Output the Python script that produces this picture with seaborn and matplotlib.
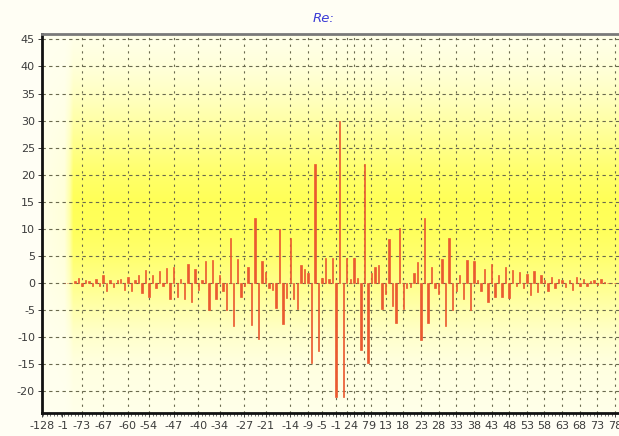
import numpy as np
import pandas as pd
import matplotlib
matplotlib.use("Agg")
import matplotlib.pyplot as plt
from matplotlib.ticker import MultipleLocator
import seaborn as sns

# Real part of the spectrum, bins -78 .. -1
re_neg = [
    0.0, 0.0, 0.0, 0.3, 1.0, -0.5, 0.6, 0.3, -0.6, 0.8,
    -0.5, 1.5, -1.5, 0.6, -0.8, 0.5, 0.8, -1.2, 1.2, -1.5,
    0.5, 1.5, -1.8, 2.5, -2.5, 1.5, -1.0, 2.2, -0.5, 2.8,
    -3.0, 3.0, -2.6, 0.8, -3.0, 3.6, -3.5, 2.6, -1.2, 0.6,
    4.0, -5.0, 4.2, -3.0, 1.5, -1.5, -5.0, 8.3, -8.0, 4.5,
    -2.5, -0.6, 3.0, -7.8, 12.0, -10.4, 4.0, 2.0, -1.0, -1.2,
    -4.6, 10.0, -7.5, -2.8, 8.3, -3.0, -4.8, 3.3, 2.6, 1.8,
    -14.8, 22.0, -12.6, 1.0, 4.6, 0.8, 4.6, -21.0,
]
# Real part of the spectrum, bins 0 .. 78
re_pos = [
    30.0, -21.0, 4.6, 0.8, 4.6, 1.0, -12.4, 22.0, -14.8, 1.8,
    3.0, 3.3, -4.7, -2.0, 8.2, -4.2, -7.4, 10.2, -4.7, -1.0,
    -0.8, 1.8, 3.9, -10.6, 12.0, -7.4, 3.0, -1.0, -2.0, 4.4,
    -8.0, 8.3, -5.0, -1.5, 1.5, -3.0, 4.2, -5.0, 4.0, 0.6,
    -1.5, 2.6, -3.5, 3.5, -2.6, 1.4, -2.5, 3.0, -2.8, 2.5,
    -0.6, 2.0, -1.0, 1.6, -2.2, 2.2, -1.6, 1.4, 0.5, -1.4,
    1.2, -1.0, 0.8, 0.5, -0.8, 0.6, -1.3, 1.2, -0.5, 0.8,
    -0.6, 0.4, 0.5, -0.4, 0.8, 0.2, 0.0, 0.0, 0.0,
]
bins = list(range(-78, 79))

# Labelled bins along the x axis (each with a dashed grid line)
tick_values = [-73, -67, -60, -54, -47, -40, -34, -27, -21, -14, -9, -5, -1,
               2, 4, 7, 9, 13, 18, 23, 28, 33, 38, 43, 48, 53, 58, 63, 68, 73, 78]
# Two extra labels squeezed in at the left end of the axis
edge_labels = ["-128", "-1"]

df = pd.DataFrame({"bin": bins, "re": re_neg + re_pos})

sns.set_theme(style="white")
plt.rcParams["font.family"] = ["DejaVu Sans"]
plt.rcParams["axes.unicode_minus"] = False

fig = plt.figure(figsize=(6.19, 4.36), dpi=100, facecolor="#fffef4")
ax = fig.add_axes([42 / 619, 23 / 436, 577 / 619, 379 / 436])
ax.set_facecolor("#fffff0")

x0, x1 = -84.3, 79.1
y0, y1 = -24, 46

# Yellow backdrop: strongest a little above zero, fading to cream at the top,
# bottom and along the left edge.
ys = np.linspace(y0, y1, 400)
xs = np.linspace(x0, x1, 800)
pv = np.interp(ys, [-24, -15, -10, -5, 0, 5, 10, 15, 20, 25, 30, 35, 40, 46],
               [0.04, 0.1, 0.22, 0.42, 0.64, 0.82, 0.94, 0.97, 0.85, 0.66, 0.46, 0.28, 0.14, 0.04])
ph = np.interp(xs, [x0, -78.0, -76.5, -75.5], [0.06, 0.15, 0.5, 1.0])
inten = pv[:, None] * ph[None, :]
pale = np.array([1.0, 1.0, 0.94])
full = np.array([1.0, 1.0, 0.32])
rgb = pale + inten[..., None] * (full - pale)
ax.imshow(rgb, extent=(x0, x1, y0, y1), origin="lower", aspect="auto",
          interpolation="bilinear", zorder=0)

grid_col = "#6a6a4e"
ax.vlines(tick_values, y0, y1, colors=grid_col, linestyles=(0, (2, 4)),
          linewidth=0.8, zorder=1)
ax.hlines(list(range(-20, 46, 5)), x0, x1, colors=grid_col,
          linestyles=(0, (3, 3)), linewidth=0.8, zorder=1)

bar_col = "#ea5a30"
sns.barplot(data=df, x="bin", y="re", native_scale=True, width=0.4,
            color=bar_col, saturation=1, edgecolor=bar_col, linewidth=0.5,
            errorbar=None, ax=ax, zorder=3)

ax.set_xlim(x0, x1)
ax.set_ylim(y0, y1)
ax.set_xlabel("")
ax.set_ylabel("")

ax.set_xticks([x0, -78.5] + tick_values, edge_labels + [str(v) for v in tick_values])
ax.xaxis.set_minor_locator(MultipleLocator(1))
ax.set_yticks(list(range(-20, 46, 5)))

ax.tick_params(axis="x", which="major", length=3, width=0.7, colors="#3c3c3c",
               labelsize=8, pad=3, bottom=True)
ax.tick_params(axis="x", which="minor", length=2, width=0.6, colors="#555555",
               bottom=True)
ax.tick_params(axis="y", which="major", length=3, width=0.7, colors="#3c3c3c",
               labelsize=8, pad=2, left=True)

for side in ("left", "bottom"):
    ax.spines[side].set_color("#111111")
    ax.spines[side].set_linewidth(2)
ax.spines["top"].set_color("#7a7a7a")
ax.spines["top"].set_linewidth(2)
ax.spines["right"].set_visible(False)

fig.text(324 / 619, 1 - 18 / 436, "Re:", color="#3b3bd6", style="italic",
         fontsize=9.5, ha="center", va="center")

fig.savefig("out.png", dpi=100, facecolor=fig.get_facecolor())
